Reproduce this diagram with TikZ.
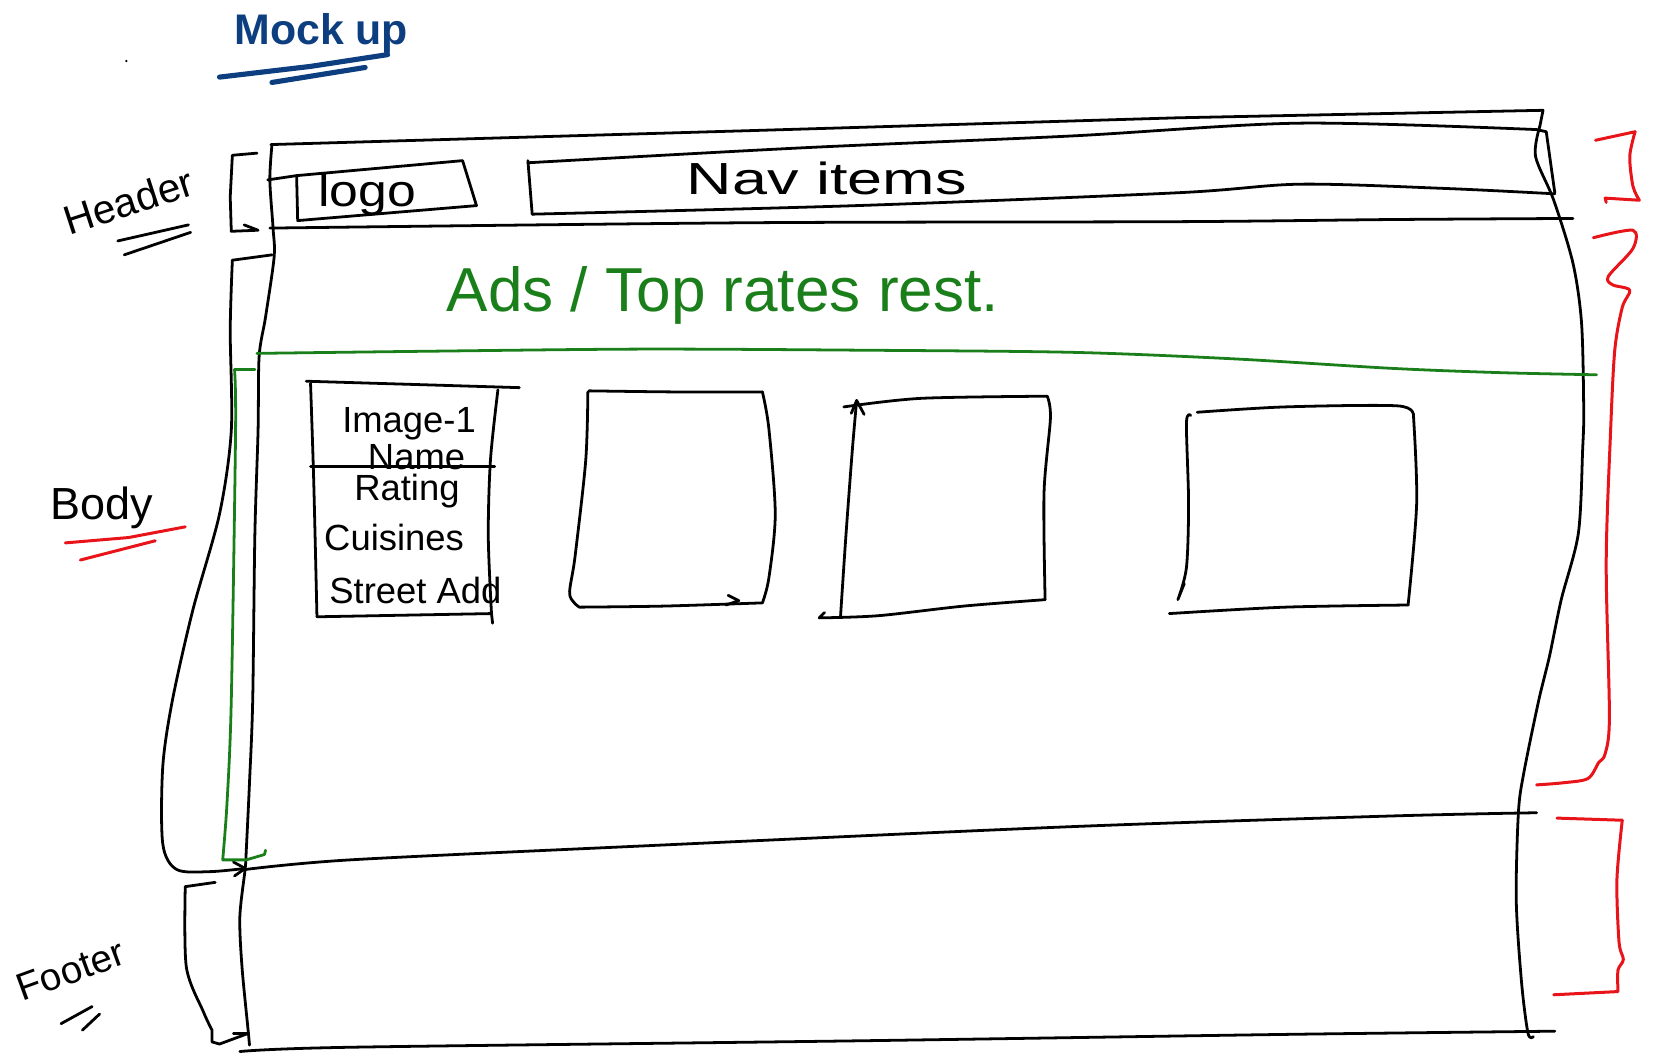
\documentclass[tikz,border=0pt]{standalone}
\usepackage{fontspec}
\setmainfont{Liberation Sans}
\definecolor{titleblue}{HTML}{0D3F80}
\definecolor{greenink}{HTML}{1A7F1A}
\definecolor{redink}{HTML}{E8141A}
\begin{document}
\begin{tikzpicture}[x=0.5pt,y=-0.5pt,
  ink/.style={line width=1.3pt, line cap=round, line join=round, draw=black},
  gink/.style={line width=1.3pt, line cap=round, line join=round, draw=greenink},
  rink/.style={line width=1.4pt, line cap=round, line join=round, draw=redink},
  bink/.style={line width=2.4pt, line cap=round, line join=round, draw=titleblue},
  lbl/.style={inner sep=0pt, anchor=center},
  fs/.style={font=\fontsize{#1}{#1}\selectfont}]
\useasboundingbox (0,0) rectangle (1568,987);

% ---------- title ----------
\node[lbl, text=titleblue, font=\bfseries\fontsize{20}{20}\selectfont] (title) at (300,31) {Mock up};
\draw[bink] (205,72) -- (290,62) -- (362,51);
\draw[bink] (254,77) -- (341,63);
\fill (118,57) circle (1.2);

% ---------- side labels ----------
\node[lbl, fs=19, rotate=18] (header) at (120,188) {Header};
\draw[ink] (110,225) -- (176,210);
\draw[ink] (116,238) -- (178,217);
\node[lbl, fs=21] (body) at (95,474) {Body};
\draw[rink] (61,507) -- (120,502) -- (173,492);
\draw[rink] (75,523) -- (145,505);
\node[lbl, fs=18, rotate=20] (footer) at (66,906) {Footer};
\draw[ink] (57,956) -- (86,940);
\draw[ink] (77,962) -- (93,947);

% ---------- outer frame ----------
\draw[ink] (253,135) -- (700,122) -- (1100,110) -- (1441,103) -- (1438,118);
\draw[ink] plot[smooth] coordinates {(1438,118) (1434,146) (1451,187) (1469,246) (1477,302) (1479,383) (1478,420) (1474,498) (1458,560) (1447,613) (1437,654) (1423,722) (1418,759) (1416,841) (1421,918) (1427,965) (1432,968)};
\draw[ink] plot[smooth] coordinates {(254,135) (252,168) (255,213) (256,240) (248,296) (242,333) (241,402) (238,500) (236,654) (233,731) (230,794) (229,811) (224,856) (226,903) (232,965) (233,976)};

% header row
\draw[ink] (250,168) -- (277,164);
\draw[ink] (277,164) -- (432,150) -- (445,192) -- (278,206) -- cycle;
\node[lbl, fs=21, xscale=1.15] (logo) at (343,182) {logo};
\draw[ink] (493,150) -- (497,200);
\draw[ink] plot[smooth] coordinates {(493,152) (750,138) (1000,127) (1214,115) (1435,121)} -- (1444,123) -- (1452,180);
\draw[ink] plot[smooth] coordinates {(497,200) (800,192) (1100,180) (1214,172) (1350,176) (1452,181)};
\node[lbl, fs=21, xscale=1.4] (nav) at (772,167) {Nav items};
\draw[ink] plot[smooth] coordinates {(252,213) (700,208) (1100,207) (1300,205) (1469,204)};

% header bracket (left)
\draw[ink] (240,143) -- (217,145) -- (215,184) -- (216,216) -- (241,215) -- (228,210);

% body bracket (left)
\draw[ink] (254,238) -- (217,243);
\draw[ink] plot[smooth] coordinates {(217,243) (215,308) (216,402) (205,480) (180,570) (161,654) (152,716) (152,788) (165,812) (196,814) (229,811)};
\draw[ink] (218,805) -- (229,811) -- (219,818);

% ads area
\node[lbl, fs=29, text=greenink] (ads) at (675,276) {Ads / Top rates rest.};
\draw[gink] plot[smooth] coordinates {(240,330) (400,328) (600,326) (800,327) (1000,329) (1150,335) (1300,344) (1401,348) (1491,350)};
\draw[gink] (238,345) -- (219,345);
\draw[gink] plot[smooth] coordinates {(219,345) (220,402) (216,654) (212,750) (208,803)} -- (230,803) -- (247,798) -- (248,794);

% body / footer lines
\draw[ink] plot[smooth] coordinates {(229,812) (327,803) (600,790) (1000,772) (1300,762) (1435,759)};
\draw[ink] plot[smooth] coordinates {(224,982) (327,978) (800,972) (1200,966) (1452,963)};

% footer bracket (left)
\draw[ink] (201,824) -- (173,828);
\draw[ink] plot[smooth] coordinates {(173,828) (174,903) (190,945) (198,962)} -- (198,973) -- (205,975) -- (232,965);
\draw[ink] (218,965) -- (232,965);

% ---------- red brackets ----------
\draw[rink] (1490,131) -- (1527,123);
\draw[rink] plot[smooth] coordinates {(1527,123) (1522,146) (1525,174) (1531,187)} -- (1499,185) -- (1500,189);
\draw[rink] plot[smooth] coordinates {(1488,222) (1525,215) (1525,232) (1502,258) (1506,266) (1522,271) (1515,287) (1508,327) (1504,405) (1500,526) (1503,669) (1499,704) (1493,712) (1483,727) (1460,731) (1435,733)};
\draw[rink] (1454,764) -- (1515,766);
\draw[rink] plot[smooth] coordinates {(1515,766) (1510,822) (1512,880) (1516,896) (1511,906) (1511,926)} -- (1451,929);

% ---------- card 1 ----------
\draw[ink] (286,356) -- (485,362);
\draw[ink] plot[smooth] coordinates {(290,358) (293,450) (296,576)};
\draw[ink] (296,576) -- (459,573) -- (460,582);
\draw[ink] plot[smooth] coordinates {(465,364) (458,430) (456,501) (459,573)};
\draw[ink] (290,436) -- (462,436);
\node[lbl, fs=17] (img) at (382,396) {Image-1};
\node[lbl, fs=17] (name) at (389,427) {Name};
\node[lbl, fs=17] (rating) at (380,459) {Rating};
\node[lbl, fs=17] (cuisines) at (368,502) {Cuisines};
\node[lbl, fs=17] (street) at (388,551) {Street Add};

% ---------- card 2 ----------
\draw[ink] plot[smooth] coordinates {(550,365) (630,366) (712,366)};
\draw[ink] plot[smooth] coordinates {(549,366) (547,430) (537,520) (532,555) (541,567)};
\draw[ink] plot[smooth] coordinates {(541,567) (620,566) (712,563)};
\draw[ink] plot[smooth] coordinates {(712,366) (718,400) (724,480) (718,540) (712,563)};
\draw[ink] (680,556) -- (690,561) -- (678,565);

% ---------- card 3 ----------
\draw[ink] plot[smooth] coordinates {(788,380) (860,372) (978,370)};
\draw[ink] plot[smooth] coordinates {(978,370) (981,390) (975,460) (976,560)};
\draw[ink] plot[smooth] coordinates {(976,560) (900,566) (820,575) (765,577)} -- (770,572);
\draw[ink] plot[smooth] coordinates {(800,374) (796,420) (790,500) (785,575)};
\draw[ink] (795,386) -- (800,374) -- (807,387);

% ---------- card 4 ----------
\draw[ink] plot[smooth] coordinates {(1118,385) (1200,380) (1305,379) (1320,388)};
\draw[ink] plot[smooth] coordinates {(1320,388) (1323,470) (1315,565)};
\draw[ink] plot[smooth] coordinates {(1315,565) (1200,567) (1092,573)};
\draw[ink] plot[smooth] coordinates {(1112,388) (1108,395) (1110,470) (1108,530) (1100,560)} -- (1106,545);
\end{tikzpicture}
\end{document}
